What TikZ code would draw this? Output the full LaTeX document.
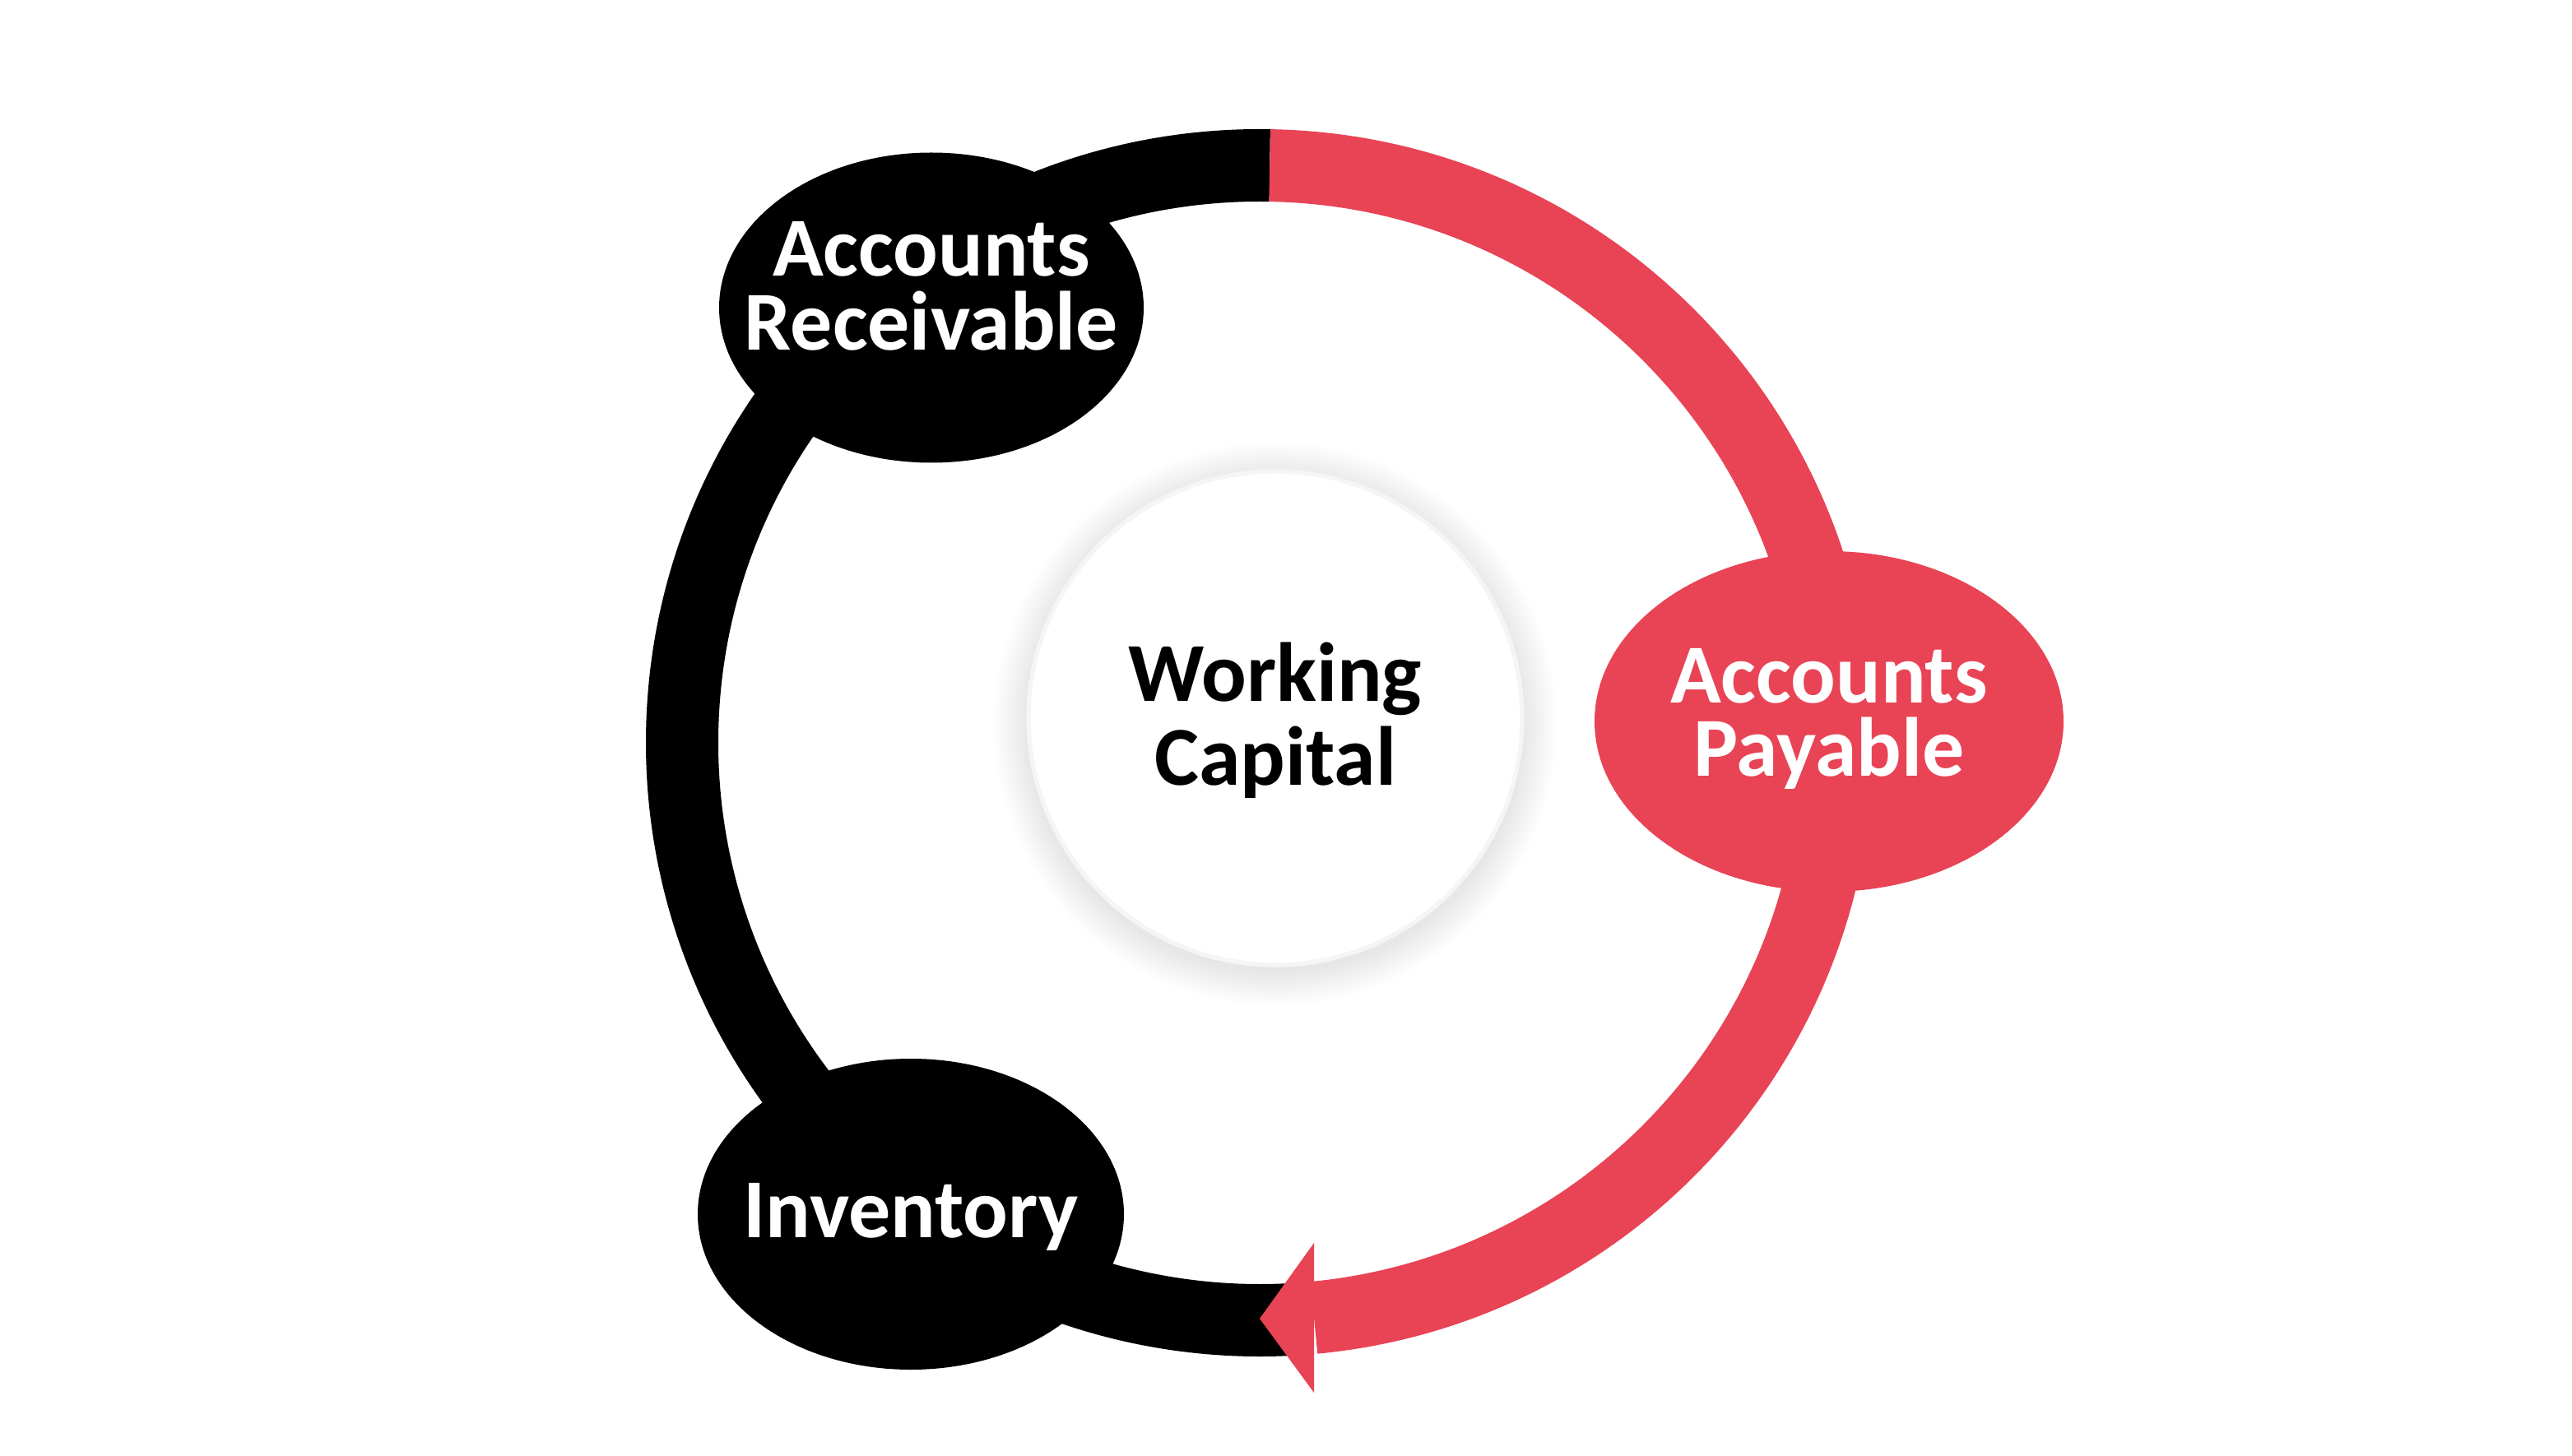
\documentclass[tikz,border=0pt]{standalone}
\usepackage{fontspec}
\setmainfont{Carlito}
\usetikzlibrary{shapes.geometric}
\definecolor{rosso}{RGB}{232,68,85}

\begin{document}
\begin{tikzpicture}[x=1cm, y=1cm,
		fase/.style={ellipse, fill=black, inner sep=0pt},
		scritta/.style={text=white, align=center, font=\fontsize{29}{25.5}\selectfont\bfseries},
		anello/.style={line width=0.88cm}]
	
	\useasboundingbox (0,0) rectangle (31.26,-17.70);
	
	% Centro dell'anello
	\coordinate (c) at (15.31,-9.03);
	
	% Anello nero e freccia rossa
	\draw [anello, black] ([shift={(89:7.02)}]c) arc[start angle=89, end angle=274, radius=7.02];
	\draw [anello, rosso] ([shift={(89:7.02)}]c) arc[start angle=89, end angle=-84.6, radius=7.02];
	\fill [rosso] ([shift={(0,-7.00)}]c) -- ([shift={(0.66,-6.08)}]c) -- ([shift={(0.66,-7.90)}]c) -- cycle;
	
	% Ombra e cerchio centrale
	\foreach \k in {1,...,12}
		\fill [black, opacity=0.006] (15.50,-8.80) circle (3.00+0.035*\k);
	\node [circle, fill=white, draw=black!4, line width=1.5pt, minimum size=6.0cm] (wc) at (15.50,-8.73) {};
	\node [scritta, text=black, font=\fontsize{29}{29}\selectfont\bfseries] (wc-t) at ([yshift=-0.03cm]wc) {Working\\Capital};
	
	% Fasi del ciclo
	\node [fase, minimum width=5.16cm, minimum height=3.77cm] (ar) at (11.32,-3.74) {};
	\node [fase, fill=rosso, minimum width=5.70cm, minimum height=4.14cm] (ap) at (22.23,-8.77) {};
	\node [fase, minimum width=5.18cm, minimum height=3.78cm] (inv) at (11.07,-14.76) {};
	
	% Testi delle fasi
	\node [scritta] (ar-t) at ([yshift=0.26cm]ar) {Accounts\\Receivable};
	\node [scritta] (ap-t) at ([yshift=0.03cm]ap) {Accounts\\Payable};
	\node [scritta] (inv-t) at ([yshift=-0.03cm]inv) {Inventory};
	
\end{tikzpicture}
\end{document}
